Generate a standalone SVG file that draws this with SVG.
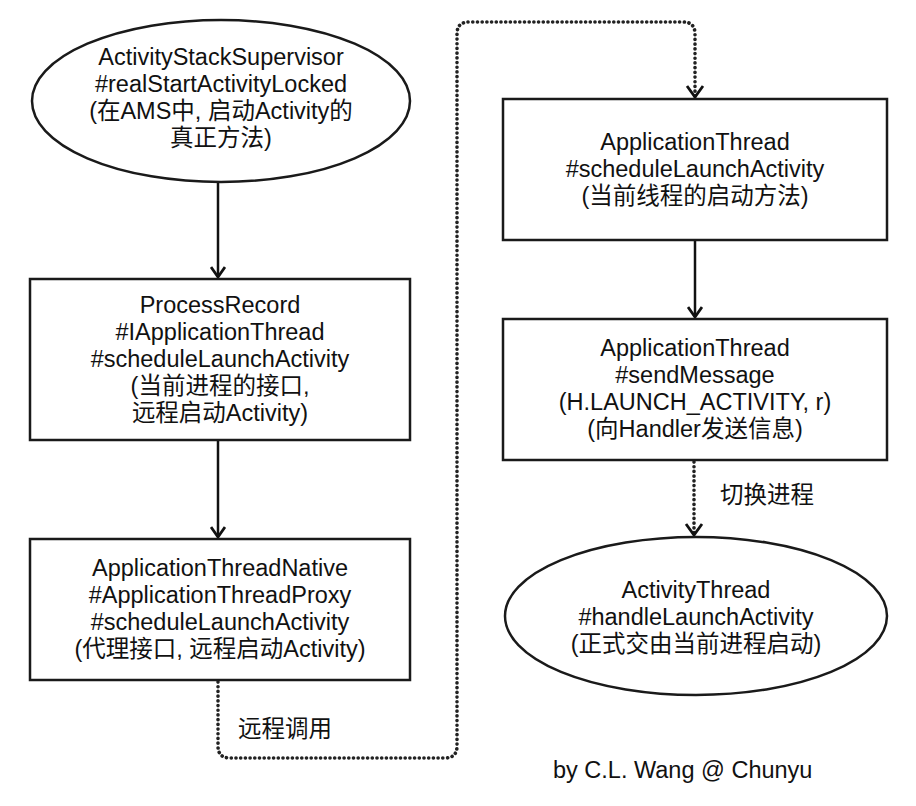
<svg xmlns="http://www.w3.org/2000/svg" width="916" height="806" viewBox="0 0 916 806">
<style>
.n{fill:#fff;stroke:#1a1a1a;stroke-width:2.5}
.t{font-family:"Liberation Sans","Noto Sans CJK SC",Arial,sans-serif;font-size:23.5px;fill:#111;text-anchor:middle}
.l{font-family:"Liberation Sans","Noto Sans CJK SC",Arial,sans-serif;font-size:23.5px;fill:#111}
.s{fill:none;stroke:#111;stroke-width:2.5}
.d{fill:none;stroke:#222;stroke-width:3.6;stroke-dasharray:0.1 4.6;stroke-linecap:round;stroke-linejoin:round}
</style>
<defs>
<marker id="ah" markerWidth="16" markerHeight="16" refX="8" refY="14" orient="0" markerUnits="userSpaceOnUse" viewBox="0 0 16 16">
<polyline points="1,4 8,14 15,4" fill="none" stroke="#111" stroke-width="2.8"/>
</marker>
</defs>
<rect width="916" height="806" fill="#fff"/>
<g id="connectors">
<line class="s" x1="218" y1="183" x2="218" y2="277" marker-end="url(#ah)"/>
<line class="s" x1="218" y1="440" x2="218" y2="537" marker-end="url(#ah)"/>
<line class="s" x1="695" y1="240" x2="695" y2="317" marker-end="url(#ah)"/>
<path class="d" d="M218,682 V746 Q218,758 230,758 H445 Q457,758 457,746 V34 Q457,22 469,22 H683 Q695,22 695,34 V96"/>
<polyline points="687,86 695,97 703,86" fill="none" stroke="#111" stroke-width="2.8"/>
<line class="d" x1="694" y1="462" x2="694" y2="534"/>
<polyline points="686,524 694,535 702,524" fill="none" stroke="#111" stroke-width="2.8"/>
<text class="l" x="238" y="737">远程调用</text>
<text class="l" x="720" y="503">切换进程</text>
</g>
<g id="n1">
<ellipse class="n" cx="221" cy="101" rx="189" ry="81"/>
<text class="t" x="221" y="65">ActivityStackSupervisor</text>
<text class="t" x="221" y="92">#realStartActivityLocked</text>
<text class="t" x="221" y="119">(在AMS中, 启动Activity的</text>
<text class="t" x="221" y="146">真正方法)</text>
</g>
<g id="n2">
<rect class="n" x="30" y="279" width="380" height="161"/>
<text class="t" x="220" y="313">ProcessRecord</text>
<text class="t" x="220" y="340">#IApplicationThread</text>
<text class="t" x="220" y="367">#scheduleLaunchActivity</text>
<text class="t" x="220" y="394">(当前进程的接口,</text>
<text class="t" x="220" y="421">远程启动Activity)</text>
</g>
<g id="n3">
<rect class="n" x="30" y="539" width="380" height="141"/>
<text class="t" x="220" y="576">ApplicationThreadNative</text>
<text class="t" x="220" y="603">#ApplicationThreadProxy</text>
<text class="t" x="220" y="630">#scheduleLaunchActivity</text>
<text class="t" x="220" y="657">(代理接口, 远程启动Activity)</text>
</g>
<g id="n4">
<rect class="n" x="503" y="99" width="384" height="141"/>
<text class="t" x="695" y="150">ApplicationThread</text>
<text class="t" x="695" y="177">#scheduleLaunchActivity</text>
<text class="t" x="695" y="204">(当前线程的启动方法)</text>
</g>
<g id="n5">
<rect class="n" x="503" y="319" width="384" height="141"/>
<text class="t" x="695" y="356">ApplicationThread</text>
<text class="t" x="695" y="383">#sendMessage</text>
<text class="t" x="695" y="410">(H.LAUNCH_ACTIVITY, r)</text>
<text class="t" x="695" y="437">(向Handler发送信息)</text>
</g>
<g id="n6">
<ellipse class="n" cx="696" cy="616" rx="191" ry="79"/>
<text class="t" x="696" y="598">ActivityThread</text>
<text class="t" x="696" y="625">#handleLaunchActivity</text>
<text class="t" x="696" y="652">(正式交由当前进程启动)</text>
</g>
<text class="l" x="553" y="778">by C.L. Wang @ Chunyu</text>
</svg>
